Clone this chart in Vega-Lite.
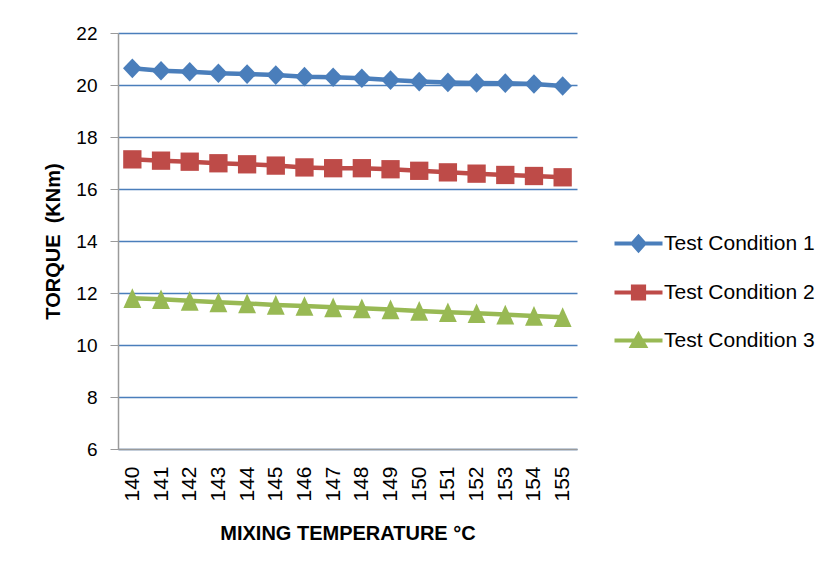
{
  "$schema": "https://vega.github.io/schema/vega-lite/v6.json",
  "width": 459,
  "height": 416,
  "autosize": {"type": "none"},
  "padding": {"left": 118, "top": 33, "right": 250, "bottom": 127},
  "background": "white",
  "config": {"view": {"stroke": null}, "font": "Liberation Sans"},
  "data": {"values": [
    {"series": "Test Condition 1", "temp": 140, "torque": 20.64},
    {"series": "Test Condition 1", "temp": 141, "torque": 20.55},
    {"series": "Test Condition 1", "temp": 142, "torque": 20.51},
    {"series": "Test Condition 1", "temp": 143, "torque": 20.45},
    {"series": "Test Condition 1", "temp": 144, "torque": 20.42},
    {"series": "Test Condition 1", "temp": 145, "torque": 20.38},
    {"series": "Test Condition 1", "temp": 146, "torque": 20.32},
    {"series": "Test Condition 1", "temp": 147, "torque": 20.30},
    {"series": "Test Condition 1", "temp": 148, "torque": 20.26},
    {"series": "Test Condition 1", "temp": 149, "torque": 20.19},
    {"series": "Test Condition 1", "temp": 150, "torque": 20.13},
    {"series": "Test Condition 1", "temp": 151, "torque": 20.10},
    {"series": "Test Condition 1", "temp": 152, "torque": 20.08},
    {"series": "Test Condition 1", "temp": 153, "torque": 20.07},
    {"series": "Test Condition 1", "temp": 154, "torque": 20.04},
    {"series": "Test Condition 1", "temp": 155, "torque": 19.96},
    {"series": "Test Condition 2", "temp": 140, "torque": 17.14},
    {"series": "Test Condition 2", "temp": 141, "torque": 17.09},
    {"series": "Test Condition 2", "temp": 142, "torque": 17.05},
    {"series": "Test Condition 2", "temp": 143, "torque": 16.99},
    {"series": "Test Condition 2", "temp": 144, "torque": 16.95},
    {"series": "Test Condition 2", "temp": 145, "torque": 16.90},
    {"series": "Test Condition 2", "temp": 146, "torque": 16.83},
    {"series": "Test Condition 2", "temp": 147, "torque": 16.80},
    {"series": "Test Condition 2", "temp": 148, "torque": 16.80},
    {"series": "Test Condition 2", "temp": 149, "torque": 16.76},
    {"series": "Test Condition 2", "temp": 150, "torque": 16.70},
    {"series": "Test Condition 2", "temp": 151, "torque": 16.64},
    {"series": "Test Condition 2", "temp": 152, "torque": 16.59},
    {"series": "Test Condition 2", "temp": 153, "torque": 16.54},
    {"series": "Test Condition 2", "temp": 154, "torque": 16.50},
    {"series": "Test Condition 2", "temp": 155, "torque": 16.45},
    {"series": "Test Condition 3", "temp": 140, "torque": 11.80},
    {"series": "Test Condition 3", "temp": 141, "torque": 11.76},
    {"series": "Test Condition 3", "temp": 142, "torque": 11.70},
    {"series": "Test Condition 3", "temp": 143, "torque": 11.64},
    {"series": "Test Condition 3", "temp": 144, "torque": 11.60},
    {"series": "Test Condition 3", "temp": 145, "torque": 11.54},
    {"series": "Test Condition 3", "temp": 146, "torque": 11.50},
    {"series": "Test Condition 3", "temp": 147, "torque": 11.45},
    {"series": "Test Condition 3", "temp": 148, "torque": 11.41},
    {"series": "Test Condition 3", "temp": 149, "torque": 11.37},
    {"series": "Test Condition 3", "temp": 150, "torque": 11.31},
    {"series": "Test Condition 3", "temp": 151, "torque": 11.26},
    {"series": "Test Condition 3", "temp": 152, "torque": 11.22},
    {"series": "Test Condition 3", "temp": 153, "torque": 11.17},
    {"series": "Test Condition 3", "temp": 154, "torque": 11.12},
    {"series": "Test Condition 3", "temp": 155, "torque": 11.07}
  ]},
  "encoding": {
    "x": {
      "field": "temp",
      "type": "ordinal",
      "scale": {"type": "point", "padding": 0.5},
      "axis": {
        "labelAngle": 270,
        "ticks": false,
        "labelPadding": 17,
        "labelFontSize": 21,
        "labelColor": "#000",
        "domainColor": "#9a9a9a",
        "domainWidth": 1.5,
        "grid": false,
        "title": "MIXING TEMPERATURE °C",
        "titleFontSize": 20,
        "titleFontWeight": "bold",
        "titleColor": "#000",
        "titlePadding": 22
      }
    },
    "y": {
      "field": "torque",
      "type": "quantitative",
      "scale": {"domain": [6, 22], "nice": false, "zero": false},
      "axis": {
        "values": [6, 8, 10, 12, 14, 16, 18, 20, 22],
        "grid": true,
        "gridColor": "#4a7ebb",
        "gridWidth": 1.3,
        "gridOpacity": 1,
        "domainColor": "#9a9a9a",
        "domainWidth": 1.5,
        "tickColor": "#9a9a9a",
        "tickSize": 8,
        "labelFontSize": 19,
        "labelColor": "#000",
        "labelPadding": 13,
        "title": "TORQUE \u00a0(KNm)",
        "titleFontSize": 20,
        "titleFontWeight": "bold",
        "titleColor": "#000",
        "titlePadding": 12
      }
    },
    "color": {
      "field": "series",
      "type": "nominal",
      "scale": {"range": ["#4a7ebb", "#be4b48", "#98b954"]},
      "legend": {
        "orient": "none",
        "legendX": 510,
        "legendY": 200,
        "title": null,
        "padding": 0,
        "labelFontSize": 21,
        "labelColor": "#000",
        "symbolSize": 256,
        "labelOffset": 15,
        "rowPadding": 19,
        "encode": {
          "symbols": {
            "update": {
              "shape": {"signal": "datum.value === 'Test Condition 1' ? 'M-3,0H3M-0.75,0L0,-0.85L0.75,0L0,0.85Z' : datum.value === 'Test Condition 2' ? 'M-3,0H3M-0.7,-0.75H0.7V0.75H-0.7Z' : 'M-3,0H3M0,-0.7L0.8,0.7L-0.8,0.7Z'"},
              "fill": {"scale": "color", "field": "value"},
              "stroke": {"scale": "color", "field": "value"},
              "strokeWidth": {"value": 4},
              "opacity": {"value": 1},
              "fillOpacity": {"value": 1}
            }
          }
        }
      }
    }
  },
  "layer": [
    {"mark": {"type": "line", "strokeWidth": 4.5}},
    {
      "mark": {"type": "point", "filled": true, "opacity": 1},
      "encoding": {
        "shape": {
          "field": "series",
          "type": "nominal",
          "scale": {"range": ["M-1,0L0,-1.05L1,0L0,1.05Z", "square", "M0,-1.1L1,1.1L-1,1.1Z"]},
          "legend": null
        },
        "size": {
          "field": "series",
          "type": "ordinal",
          "scale": {"range": [350, 320, 300]},
          "legend": null
        }
      }
    }
  ]
}
